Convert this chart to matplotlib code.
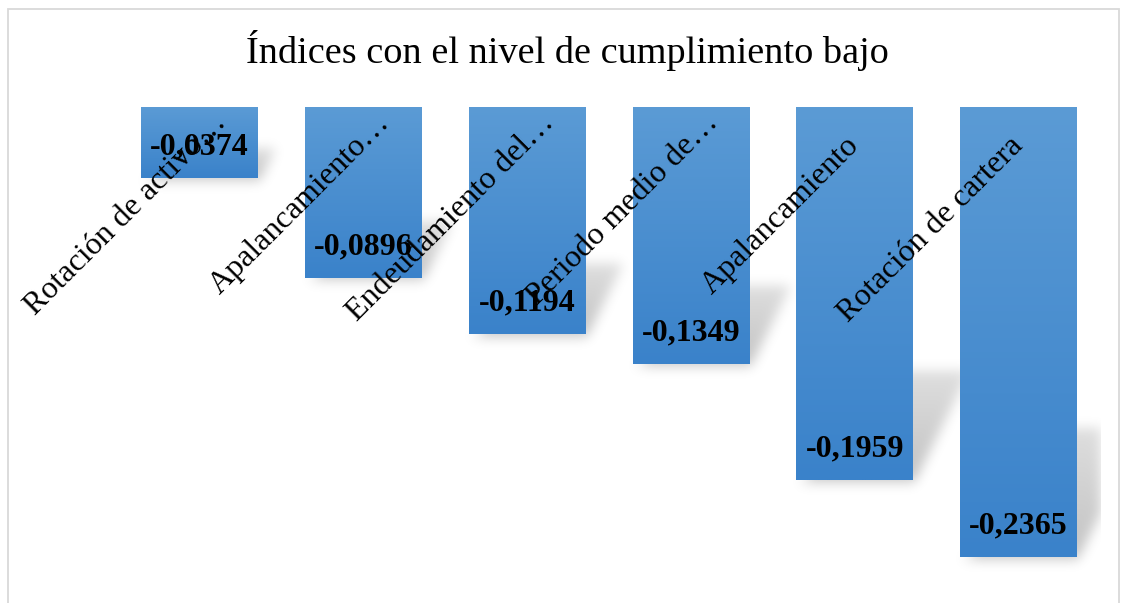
import numpy as np
import matplotlib
matplotlib.use('Agg')
import matplotlib.pyplot as plt
from matplotlib.colors import LinearSegmentedColormap
from matplotlib.patches import Rectangle

# Data
categories = ['Rotación de activo…', 'Apalancamiento…', 'Endeudamiento del…',
              'Periodo medio de…', 'Apalancamiento', 'Rotación de cartera']
values = [-0.0374, -0.0896, -0.1194, -0.1349, -0.1959, -0.2365]
value_labels = ['-0,0374', '-0,0896', '-0,1194', '-0,1349', '-0,1959', '-0,2365']
title = 'Índices con el nivel de cumplimiento bajo'

plt.rcParams['font.family'] = ['Liberation Serif', 'DejaVu Serif']

W, H = 1126, 603
fig = plt.figure(figsize=(W / 100, H / 100), dpi=100)

# chart area border
fig.patches.append(Rectangle((8 / W, -0.05), (1119 - 8) / W, 1.05 - 9 / H,
                             transform=fig.transFigure, fill=False,
                             edgecolor='#D9D9D9', lw=1.3))

ymin = -0.25
ax = fig.add_axes([117.5 / W, 1 - 582.75 / H, 983 / W, 475.75 / H])
ax.set_xlim(-0.5, 5.5)
ax.set_ylim(ymin, 0)
ax.axis('off')

x = np.arange(len(values))
bars = ax.bar(x, values, width=0.713, color='none', zorder=3)

# pixel scale of the data units
p0 = ax.transData.transform((0, 0))
p1 = ax.transData.transform((1, 1))
sx, sy = p1[0] - p0[0], p1[1] - p0[1]


# soft shadow behind the bars
def blur(a, sigma):
    r = int(3 * sigma)
    k = np.exp(-0.5 * (np.arange(-r, r + 1) / sigma) ** 2)
    k /= k.sum()
    out = np.array([np.convolve(row, k, mode='same') for row in a])
    out = np.array([np.convolve(col, k, mode='same') for col in out.T]).T
    return out

nx, ny = int(6 * sx), int(-ymin * sy)
xs = np.linspace(-0.5, 5.5, nx)
ys = np.linspace(ymin, 0, ny)
XX, YY = np.meshgrid(xs, ys)
mask = np.zeros_like(XX)
for b in bars:
    L = b.get_x()
    R = L + b.get_width()
    B = b.get_y() + b.get_height()
    hpx = 0.26 * abs(b.get_height()) * sy + 12
    t = (YY - B) * sy  # px above bar bottom
    lo = L + (10 + 0.5 * t) / sx
    hi = R + (2 + 0.5 * t) / sx
    sel = (t >= 0) & (t <= hpx) & (XX >= lo) & (XX <= hi)
    mask[sel] = np.maximum(mask[sel], 1 - 0.45 * t[sel] / hpx)
    mask[(t < 0) & (t > -4) & (XX >= L + 3 / sx) & (XX <= R + 2 / sx)] = 0.5
shadow = blur(mask, 6)
rgba = np.zeros(shadow.shape + (4,))
rgba[..., 3] = 0.24 * shadow
ax.imshow(rgba, extent=(-0.5, 5.5, ymin, 0), origin='lower', aspect='auto',
          interpolation='bilinear', zorder=1)

# gradient fill of each bar
cmap = LinearSegmentedColormap.from_list('bar', ['#5B9BD5', '#3A82CA'])
grad = np.linspace(0, 1, 256).reshape(-1, 1)
for b in bars:
    L = b.get_x()
    R = L + b.get_width()
    B = b.get_y() + b.get_height()
    ax.imshow(grad, cmap=cmap, extent=(L, R, B, 0), origin='upper',
              aspect='auto', interpolation='bilinear', zorder=2)

ax.set_xlim(-0.5, 5.5)
ax.set_ylim(ymin, 0)

# value labels
for i, (v, lbl) in enumerate(zip(values, value_labels)):
    ax.annotate(lbl, xy=(i, v), xytext=(0, 22.3), textcoords='offset points',
                ha='center', va='center', fontsize=23, fontweight='bold',
                zorder=5)

# category labels, rotated at the top of each bar
fs = 23
for i, cat in enumerate(categories):
    dx, dy = 20.2, -12.2
    if not cat.endswith('…'):
        # space for the ellipsis is kept even when the label is not cut
        dx -= fs * 0.707
        dy -= fs * 0.707
    ax.annotate(cat, xy=(i, 0), xytext=(dx, dy), textcoords='offset points',
                ha='right', va='baseline', rotation=45, rotation_mode='anchor',
                fontsize=fs, zorder=6, annotation_clip=False)

fig.text(567.5 / W, 1 - 63 / H, title, ha='center', va='baseline', fontsize=27.5)

fig.savefig('out.png', dpi=100)
